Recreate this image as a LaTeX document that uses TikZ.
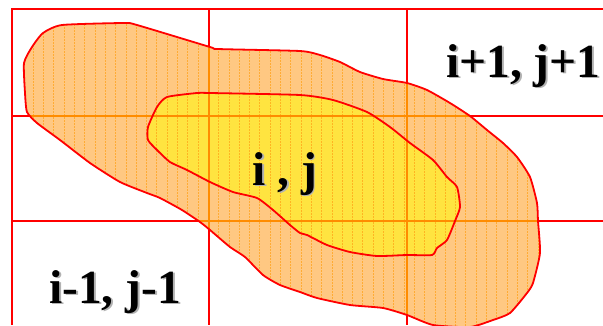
\documentclass[tikz,border=0pt]{standalone}
\usepackage{fontspec}
\setmainfont{Liberation Serif}
\definecolor{gridred}{RGB}{255,0,0}
\definecolor{blobfill}{RGB}{255,200,130}
\definecolor{yelfill}{RGB}{255,228,64}
\definecolor{hatch}{RGB}{255,160,20}
\definecolor{gridin}{RGB}{255,140,0}
\newcommand{\shadowtext}[1]{\makebox[0pt][l]{\hspace{1.8pt}\raisebox{-1.8pt}{\textcolor{black!30}{#1}}}#1}
\tikzset{
  gridline/.style={draw=gridred, line width=1.4pt},
  gridinner/.style={draw=gridin, line width=1.4pt},
  outline/.style={draw=gridred, line width=1.8pt, line join=round},
  hatchline/.style={draw=hatch, line width=0.9pt, opacity=0.7, dash pattern=on 2pt off 1pt},
  lbl/.style={font=\bfseries\fontsize{47.5}{48}\selectfont, anchor=base west, inner sep=0pt}
}
\begin{document}
\begin{tikzpicture}[x=1pt,y=-1pt]
\useasboundingbox (0,0) rectangle (603,325);
\def\outerblob{plot[smooth cycle, tension=0.35] coordinates {(62,25) (124,23) (137,25) (210,47) (218,49) (300,51) (320,55) (340,62) (360,72) (383,79) (407,83) (427,90) (450,103) (470,116) (487,130) (503,143) (517,157) (530,177) (537,203) (538,221) (540,253) (533,283) (527,293) (510,313) (493,320) (470,327) (433,325) (407,315) (383,308) (350,305) (317,298) (300,292) (280,285) (263,275) (245,257) (230,247) (210,230) (200,222) (182,210) (160,198) (147,193) (120,182) (90,163) (60,140) (37,123) (27,112) (25,93) (24,63) (32,47) (43,33)}}
\def\innerblob{plot[smooth cycle, tension=0.35] coordinates {(167,97) (197,93) (210,93) (300,95) (333,100) (367,112) (390,127) (410,143) (433,160) (447,177) (457,187) (460,207) (455,221) (447,240) (437,248) (432,255) (407,255) (377,256) (350,252) (327,245) (307,235) (300,233) (290,225) (273,210) (257,198) (233,192) (210,182) (187,170) (170,162) (157,150) (148,140) (148,127) (157,107)}}
% grid
\coordinate (tl) at (12,9);
\coordinate (tr) at (603,9);
\coordinate (bl) at (12,325);
\draw[gridline] (bl) -- (tl) -- (tr);
\coordinate (v1t) at (209,9); \coordinate (v1b) at (209,325);
\coordinate (v2t) at (407,9); \coordinate (v2b) at (407,325);
\coordinate (h1l) at (12,116); \coordinate (h1r) at (603,116);
\coordinate (h2l) at (12,221); \coordinate (h2r) at (603,221);
\draw[gridline] (v1t) -- (v1b) (v2t) -- (v2b) (h1l) -- (h1r) (h2l) -- (h2r);
% fills
\fill[blobfill] \outerblob;
\fill[yelfill] \innerblob;
\begin{scope}
  \clip \outerblob;
  \foreach \k in {0,...,50} {
    \draw[hatchline] (33.3+10.3*\k,0) -- (33.3+10.3*\k,330);
  }
  \draw[gridinner] (v1t) -- (v1b) (v2t) -- (v2b) (h1l) -- (h1r) (h2l) -- (h2r);
\end{scope}
\draw[outline] \outerblob;
\draw[outline] \innerblob;
% labels
\node[lbl] (t1) at (446,77) {\shadowtext{i+1, j+1}};
\node[lbl] (t2) at (252,185) {\shadowtext{i , j}};
\node[lbl] (t3) at (49,303) {\shadowtext{i-1, j-1}};
\end{tikzpicture}
\end{document}
